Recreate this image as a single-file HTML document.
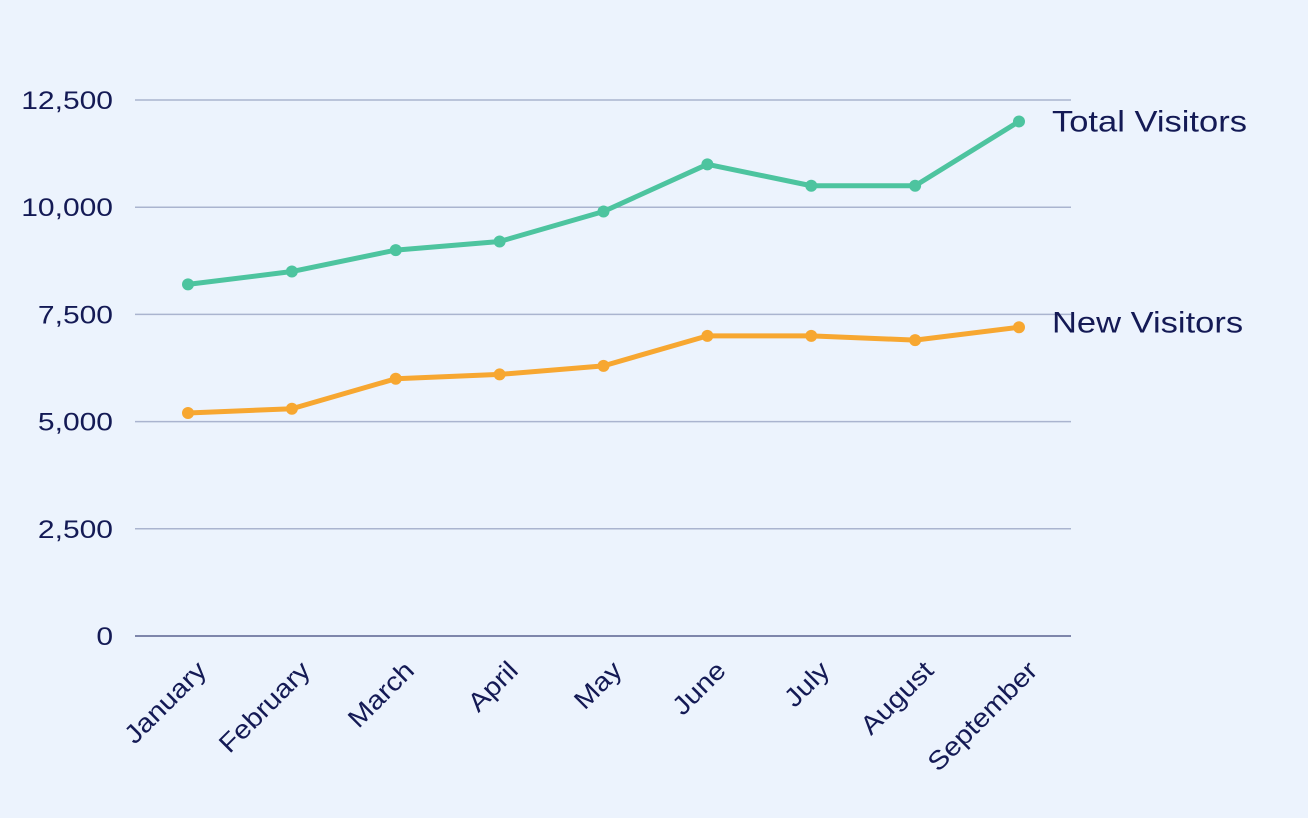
<!DOCTYPE html>
<html><head><meta charset="utf-8"><style>
html,body{margin:0;padding:0;background:#ecf3fd;}
svg{display:block;font-family:"Liberation Sans",sans-serif;}
</style></head><body>
<svg id="chart" width="1308" height="818" viewBox="0 0 1308 818">
<rect width="1308" height="818" fill="#ecf3fd"/>
<g id="grid"></g><g id="xlabels"></g><g id="series"></g>
</svg>
<script>
const months=["January","February","March","April","May","June","July","August","September"];
const totalVisitors=[8200,8500,9000,9200,9900,11000,10500,10500,12000];
const newVisitors=[5200,5300,6000,6100,6300,7000,7000,6900,7200];
const yTicks=[0,2500,5000,7500,10000,12500];
const seriesNames=["Total Visitors","New Visitors"];
const NS="http://www.w3.org/2000/svg";
const y0=636,y1=100,yMax=12500,xL=135,xR=1071,xFirst=188,xLast=1019;
const ys=v=>y0-(v/yMax)*(y0-y1);
const xs=i=>xFirst+i*(xLast-xFirst)/(months.length-1);
function mk(tag,attrs,parent){const e=document.createElementNS(NS,tag);for(const k in attrs)e.setAttribute(k,attrs[k]);parent.appendChild(e);return e;}
function widen(t,f){const w=t.getComputedTextLength();t.setAttribute('textLength',w*f);t.setAttribute('lengthAdjust','spacingAndGlyphs');}
const grid=document.getElementById('grid');
yTicks.forEach(t=>{
  const l=mk('line',{x1:xL,x2:xR,y1:ys(t),y2:ys(t),stroke:t===0?'#5a6290':'#aab4cf','stroke-width':1.5},grid);
  
  
  const tx=mk('text',{x:113,y:ys(t)+9,'text-anchor':'end','font-size':25,fill:'#141a55'},grid);
  tx.textContent=t.toLocaleString('en-US');
  
  
  widen(tx,1.2);
});
const xl=document.getElementById('xlabels');
months.forEach((m,i)=>{
  const x=xs(i)+20,y=672;
  const tx=mk('text',{x:x,y:y,'text-anchor':'end','font-size':26,fill:'#141a55',transform:`rotate(-45 ${x} ${y})`},xl);
  tx.textContent=m;
  
  
  widen(tx,1.12);
});
const sg=document.getElementById('series');
[[totalVisitors,'#4dc49f'],[newVisitors,'#f7a731']].forEach(([arr,c],si)=>{
  const p=mk('polyline',{points:arr.map((v,i)=>xs(i)+','+ys(v)).join(' '),fill:'none',stroke:c,'stroke-width':5,'stroke-linejoin':'round'},sg);
  
  
  arr.forEach((v,i)=>{
    const d=mk('circle',{cx:xs(i),cy:ys(v),r:6,fill:c},sg);
    
    
  });
  const lb=mk('text',{x:1052,y:ys(arr[arr.length-1])+(si===0?10:5),'font-size':30,fill:'#141a55'},sg);
  lb.textContent=seriesNames[si];
  
  
  widen(lb,1.15);
});
</script>
</body></html>
